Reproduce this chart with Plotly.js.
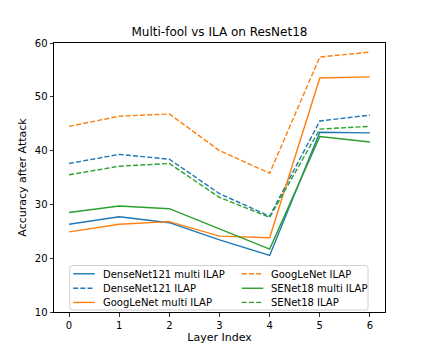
<!DOCTYPE html>
<html>
<head>
<meta charset="utf-8">
<script src="https://cdn.plot.ly/plotly-3.0.1.min.js"></script>
<style>html,body{margin:0;padding:0;background:#fff;}#chart{width:428px;height:357px;}</style>
</head>
<body>
<div id="chart"></div>
<script>
const layers = [0, 1, 2, 3, 4, 5, 6];
const denseMulti = [26.3, 27.7, 26.6, 23.4, 20.5, 43.4, 43.3];
const denseIlap = [37.6, 39.3, 38.4, 32.0, 27.8, 45.5, 46.6];
const googMulti = [24.9, 26.3, 26.8, 24.1, 23.8, 53.5, 53.7];
const googIlap = [44.5, 46.4, 46.8, 40.0, 35.8, 57.4, 58.3];
const seMulti = [28.5, 29.7, 29.2, 25.4, 21.7, 42.6, 41.6];
const seIlap = [35.5, 37.1, 37.6, 31.3, 27.6, 44.0, 44.5];
const names = ["DenseNet121 multi ILAP", "DenseNet121 ILAP", "GoogLeNet multi ILAP", "GoogLeNet ILAP", "SENet18 multi ILAP", "SENet18 ILAP"];
const series = [denseMulti, denseIlap, googMulti, googIlap, seMulti, seIlap];
const colors = ["#1f77b4", "#1f77b4", "#ff7f0e", "#ff7f0e", "#2ca02c", "#2ca02c"];
const dashes = ["solid", "5px,2.2px", "solid", "5px,2.2px", "solid", "5px,2.2px"];

const traces = series.map((s, i) => ({
  x: layers, y: s, type: "scatter", mode: "lines", name: names[i],
  line: {color: colors[i], width: 1.4, dash: dashes[i]}, showlegend: false
}));

// plot-area geometry (pixels) for building the legend box in paper units
const W = 428, H = 357;
const M = {l: 53.5, r: 42.7, t: 42.7, b: 44.7};
const pw = W - M.l - M.r, ph = H - M.t - M.b;
const px = v => (v - M.l) / pw;
const py = v => (H - M.b - v) / ph;

const font = {family: "DejaVu Sans", size: 10, color: "#000"};
const labelFont = {family: "DejaVu Sans", size: 11, color: "#000"};

// legend (matplotlib style, 2 columns, column-major order)
const shapes = [];
const annotations = [];
const bx0 = 69.3, bx1 = 368.3, by0 = 265.7, by1 = 310.3, rr = 2.5;
const rx = rr / pw, ry = rr / ph;
const X0 = px(bx0), X1 = px(bx1), Y0 = py(by1), Y1 = py(by0);
shapes.push({
  type: "path", xref: "paper", yref: "paper", layer: "above",
  path: `M ${X0 + rx},${Y0} L ${X1 - rx},${Y0} Q ${X1},${Y0} ${X1},${Y0 + ry} L ${X1},${Y1 - ry} Q ${X1},${Y1} ${X1 - rx},${Y1} L ${X0 + rx},${Y1} Q ${X0},${Y1} ${X0},${Y1 - ry} L ${X0},${Y0 + ry} Q ${X0},${Y0} ${X0 + rx},${Y0} Z`,
  fillcolor: "rgba(255,255,255,0.8)", line: {color: "#d0d0d0", width: 1}
});
const colLineX = [72.7, 241.7];
const colTextX = [102.3, 270.7];
const rowY = [274.0, 288.5, 302.7];
names.forEach((n, i) => {
  const c = Math.floor(i / 3), r = i % 3;
  shapes.push({
    type: "line", xref: "paper", yref: "paper", layer: "above",
    x0: px(colLineX[c]), x1: px(colLineX[c] + 21.6), y0: py(rowY[r]), y1: py(rowY[r]),
    line: {color: colors[i], width: 1.4, dash: dashes[i]}
  });
  annotations.push({
    xref: "paper", yref: "paper", x: px(colTextX[c] - 2), y: py(rowY[r] + 0.3),
    xanchor: "left", yanchor: "middle", showarrow: false, text: n, font: font
  });
});

const layout = {
  width: W, height: H,
  margin: M,
  paper_bgcolor: "#fff", plot_bgcolor: "#fff",
  font: font,
  showlegend: false,
  title: {text: "Multi-fool vs ILA on ResNet18", font: {family: "DejaVu Sans", size: 12, color: "#000"}, x: 0.5, xanchor: "center", xref: "paper", y: 0.912, yanchor: "middle"},
  xaxis: {
    range: [-0.3, 6.3], tickvals: layers, ticktext: layers.map(String),
    showgrid: false, zeroline: false, showline: true, mirror: true, linecolor: "#000", linewidth: 1,
    ticks: "outside", ticklen: 3.5, tickwidth: 0.8, tickcolor: "#000",
    tickfont: font,
    title: {text: "Layer Index", font: labelFont, standoff: 3}
  },
  yaxis: {
    range: [10, 60], tickvals: [10, 20, 30, 40, 50, 60],
    showgrid: false, zeroline: false, showline: true, mirror: true, linecolor: "#000", linewidth: 1,
    ticks: "outside", ticklen: 3.5, tickwidth: 0.8, tickcolor: "#000",
    tickfont: font,
    title: {text: "Accuracy after Attack", font: labelFont, standoff: 5}
  },
  shapes: shapes,
  annotations: annotations
};
Plotly.newPlot("chart", traces, layout, {displayModeBar: false, staticPlot: true});
</script>
</body>
</html>
